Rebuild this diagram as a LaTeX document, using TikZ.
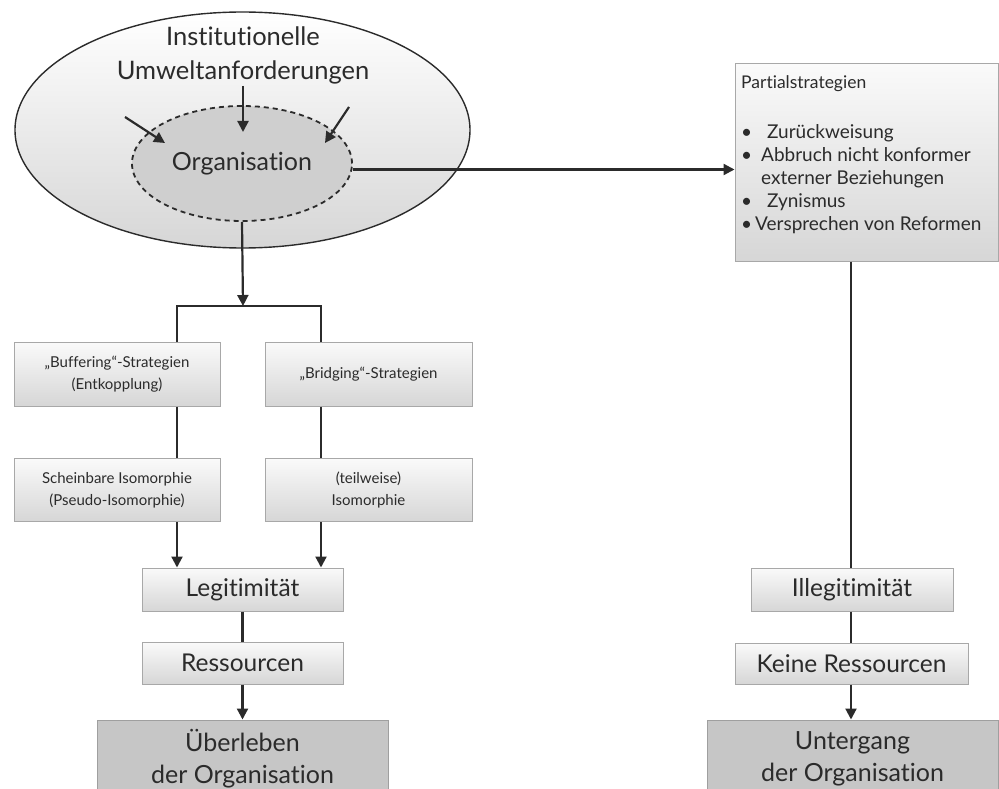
\documentclass[tikz,border=0pt]{standalone}
\usepackage{fontspec}
\setmainfont{Lato}[Ligatures={NoCommon,NoContextual}]
\usetikzlibrary{arrows.meta,shapes.geometric,calc}
\definecolor{ink}{HTML}{2B2B2B}
\definecolor{frame}{HTML}{A8A8A8}
\tikzset{
  x=1pt, y=-1pt,
  conn/.style={draw=ink, line width=2.2pt},
  arr/.style={conn, -{Triangle[length=11pt,width=11pt]}},
  sz/.style 2 args={minimum width=#1pt, minimum height=#2pt},
  stratbox/.style={rectangle, draw=frame, line width=1pt, top color=gray!4, bottom color=gray!32,
    inner sep=0pt, align=center, text=ink, font=\fontsize{15}{22}\selectfont},
  statebox/.style={stratbox, font=\fontsize{24.5}{28}\selectfont},
  endbox/.style={rectangle, draw=gray!75, line width=1pt, fill=gray!45, inner sep=0pt,
    align=center, text=ink, font=\fontsize{25}{32}\selectfont},
}
\begin{document}
\begin{tikzpicture}
\useasboundingbox (0,0) rectangle (999,789);
\clip (0,0) rectangle (999,789);

% environment and organisation
\node[ellipse, draw=ink, line width=1.4pt, top color=white, bottom color=gray!32,
      minimum width=455pt, minimum height=236pt] (env) at (242.5,130) {};
\node[align=center, text=ink, font=\fontsize{25.5}{34}\selectfont] (envtext) at (243,55)
  {Institutionelle\\Umweltanforderungen};
\node[ellipse, draw=ink, dashed, dash pattern=on 5pt off 4pt, line width=1.8pt, fill=gray!38,
      minimum width=220pt, minimum height=115pt, text=ink, font=\fontsize{25}{28}\selectfont]
      (org) at (242,163.5) {Organisation};

% pressures acting on the organisation
\coordinate (pl) at (125,117);
\coordinate (pm) at (243,86);
\coordinate (pr) at (349,107);
\draw[arr] (pl) -- (165,143);
\draw[arr] (pm) -- (243,132);
\draw[arr] (pr) -- (325,143);

% partial strategies
\node[stratbox, sz={263}{197}] (partial) at (866.5,162.5) {};
\node[anchor=north west, align=left, text=ink, inner sep=0pt,
      font=\fontsize{19}{23}\selectfont] (plist) at (741,75)
  {{\fontsize{17.5}{23}\selectfont Partialstrategien}\\[27pt]
   \makebox[26pt][l]{•}Zurückweisung\\
   \makebox[20pt][l]{•}Abbruch nicht konformer\\
   \hspace*{20pt}externer Beziehungen\\
   \makebox[26pt][l]{•}Zynismus\\
   \makebox[14pt][l]{•}Versprechen von Reformen};

% left branch
\node[stratbox, sz={206}{64}] (buffer) at (117,374) {„Buffering“-Strategien\\(Entkopplung)};
\node[stratbox, sz={207}{64}] (bridge) at (368.5,374) {„Bridging“-Strategien};
\node[stratbox, sz={206}{63}] (schein) at (117,490) {Scheinbare Isomorphie\\(Pseudo-Isomorphie)};
\node[stratbox, sz={207}{63}] (teil) at (368.5,490) {(teilweise)\\Isomorphie};
\node[statebox, sz={201}{43}] (legit) at (242.5,589.5) {Legitimität};
\node[statebox, sz={201}{42}] (ress) at (242.5,663) {Ressourcen};
\node[endbox, sz={291}{78}] (ueber) at (242.5,759) {Überleben\\der Organisation};

% right branch
\node[statebox, sz={202}{43}] (illeg) at (852,589.5) {Illegitimität};
\node[statebox, sz={233}{41}] (keine) at (851.5,663.5) {Keine Ressourcen};
\node[endbox, sz={291}{78}] (unter) at (852.5,759) {Untergang\\der Organisation};

% split into the two strategy types
\coordinate (split) at (243,306);
\coordinate (bl) at (177,306);
\coordinate (br) at (321,306);
\draw[arr] (org.south) -- (split);
\draw[conn] (bl |- buffer.north) -- (bl) -- (br) -- (br |- bridge.north);
\draw[conn] (bl |- buffer.south) -- (bl |- schein.north);
\draw[conn] (br |- bridge.south) -- (br |- teil.north);
\draw[arr] (bl |- schein.south) -- (bl |- legit.north);
\draw[arr] (br |- teil.south) -- (br |- legit.north);
\draw[conn] (legit.south) -- (ress.north);
\draw[arr] (ress.south) -- (ueber.north);

% rejection path
\coordinate (po) at ([yshift=-6pt]org.east);
\draw[arr] (po) -- (po -| partial.west);
\coordinate (rx) at (851,261);
\draw[conn] (rx |- partial.south) -- (rx |- illeg.north);
\draw[conn] (rx |- illeg.south) -- (rx |- keine.north);
\draw[arr] (rx |- keine.south) -- (rx |- unter.north);
\end{tikzpicture}
\end{document}
